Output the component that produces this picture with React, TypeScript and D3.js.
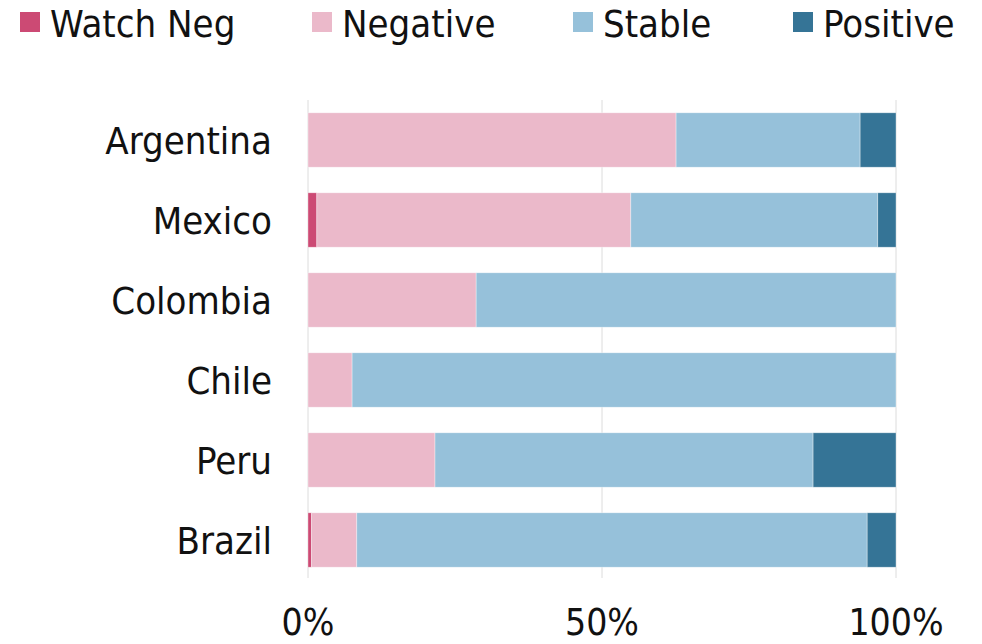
import { useEffect } from 'react';
import * as d3 from 'd3';

const countries = ['Argentina', 'Mexico', 'Colombia', 'Chile', 'Peru', 'Brazil'];
const seriesNames = ['Watch Neg', 'Negative', 'Stable', 'Positive'];
const seriesColors = ['#cc4a74', '#ebb9ca', '#96c1da', '#357496'];

// shares in percent, one entry per country
const watchNeg = [0, 1.5, 0, 0, 0, 0.6];
const negative = [62.6, 53.4, 28.6, 7.5, 21.6, 7.7];
const stable = [31.3, 42.0, 71.4, 92.5, 64.3, 86.8];
const positive = [6.1, 3.1, 0, 0, 14.1, 4.9];

const xTicks = [0, 50, 100];

const width = 982;
const height = 644;
const font = '"Liberation Sans Narrow", "DejaVu Sans Condensed", sans-serif';

export default function App() {
  useEffect(() => {
    document.body.style.margin = '0';
  }, []);

  const x = d3.scaleLinear().domain([0, 100]).range([308, 896]);
  const y = d3.scaleBand<string>().domain(countries).range([100, 580]).paddingInner(0.32).paddingOuter(0.16);

  const rows = countries.map((c, i) => ({
    country: c,
    'Watch Neg': watchNeg[i],
    Negative: negative[i],
    Stable: stable[i],
    Positive: positive[i],
  }));
  const stacked = d3.stack<any>().keys(seriesNames)(rows);

  const legendX = [20, 312, 573, 793];

  return (
    <svg width={width} height={height} style={{ display: 'block', fontFamily: font }}>
      {/* grid */}
      {xTicks.map((t) => (
        <line key={t} x1={x(t)} x2={x(t)} y1={100} y2={578} stroke="#dcdcdc" strokeWidth={1} />
      ))}
      {/* bars */}
      {stacked.map((s, si) => (
        <g key={s.key} fill={seriesColors[si]}>
          {s.map((d, i) =>
            d[1] - d[0] > 0 ? (
              <rect
                key={i}
                x={x(d[0])}
                y={y(countries[i])}
                width={x(d[1]) - x(d[0])}
                height={y.bandwidth()}
                stroke="#ffffff"
                strokeOpacity={0.5}
                strokeWidth={0.7}
              />
            ) : null
          )}
        </g>
      ))}
      {/* category labels */}
      {countries.map((c) => (
        <text
          key={c}
          x={272}
          y={(y(c) ?? 0) + y.bandwidth() / 2}
          dy="0.36em"
          textAnchor="end"
          fontSize={38}
          fill="#111"
        >
          {c}
        </text>
      ))}
      {/* x tick labels */}
      {xTicks.map((t) => (
        <text key={t} x={x(t)} y={635} textAnchor="middle" fontSize={37} fill="#111">
          {t + '%'}
        </text>
      ))}
      {/* legend */}
      {seriesNames.map((n, i) => (
        <g key={n} transform={`translate(${legendX[i]},0)`}>
          <rect x={0} y={12} width={20} height={20} fill={seriesColors[i]} />
          <text x={30} y={37} fontSize={38} fill="#111">
            {n}
          </text>
        </g>
      ))}
    </svg>
  );
}
